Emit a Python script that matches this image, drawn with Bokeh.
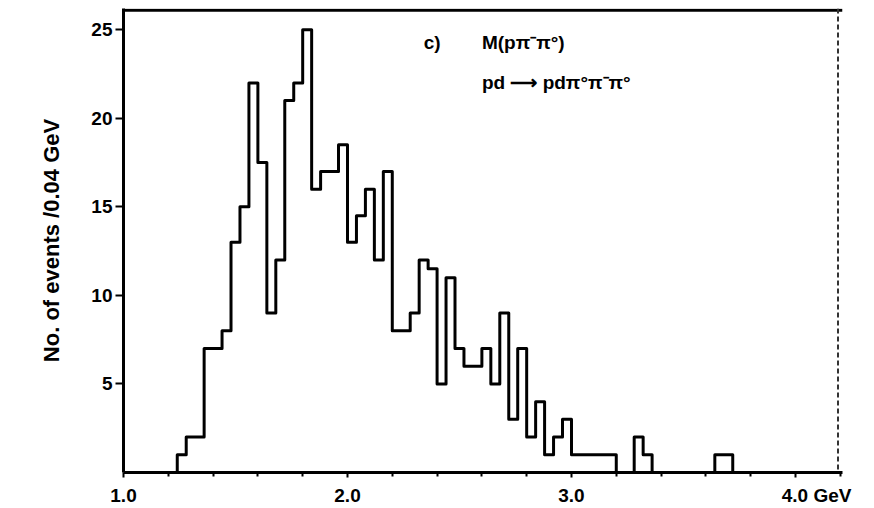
import numpy as np
from bokeh.plotting import figure
from bokeh.models import Range1d, FixedTicker, Span, Label
from bokeh.embed import file_html
from bokeh.resources import INLINE

# ---- data ----
bin_width = 0.04          # GeV per bin
first_edge = 1.20         # lower edge of the first bin listed
counts = [0, 1, 2, 2, 7, 7, 8, 13, 15, 22,
          17.5, 9, 12, 21, 22, 25, 16, 17, 17, 18.5,
          13, 14.5, 16, 12, 17, 8, 8, 9, 12, 11.5,
          5, 11, 7, 6, 6, 7, 5, 9, 3, 7,
          2, 4, 1, 2, 3, 1, 1, 1, 1, 1,
          0, 0, 2, 1, 0, 0, 0, 0, 0, 0,
          0, 1, 1, 0]
x_major = [1.0, 2.0, 3.0, 4.0]
x_labels = ["1.0", "2.0", "3.0", "4.0 GeV"]
x_minor = [1.2, 1.4, 1.6, 1.8, 2.2, 2.4, 2.6, 2.8, 3.2, 3.4, 3.6, 3.8, 4.2]
y_major = [5, 10, 15, 20, 25]
y_title = "No. of events /0.04 GeV"
title_1 = "c)"
title_2 = "M(pπ⁻π°)"
title_3 = "pd ⟶ pdπ°π⁻π°"

edges = np.round(first_edge + bin_width * np.arange(len(counts) + 1), 2)
ys = counts + [counts[-1]]

FONT = "Liberation Sans"
PAD = "\u2007" * 4   # keeps "4.0" centred on its tick while "GeV" trails right

overrides = {}
for v, s in zip(x_major, x_labels):
    overrides[v] = (PAD + s) if " " in s else s

p = figure(width=874, height=508, output_backend="svg", toolbar_location=None,
           x_range=Range1d(1.0, 4.21), y_range=Range1d(0, 26.2),
           min_border_left=123, min_border_right=32, min_border_top=8,
           min_border_bottom=36)
p.background_fill_color = "white"
p.border_fill_color = "white"
p.outline_line_color = None
p.grid.visible = False

p.step(x=list(edges), y=ys, mode="after", line_color="black", line_width=3,
       line_join="round")

# x axis
xa = p.xaxis[0]
xa.ticker = FixedTicker(ticks=x_major, minor_ticks=x_minor)
xa.major_label_overrides = overrides
xa.axis_line_width = 3
xa.major_tick_line_width = 2
xa.minor_tick_line_width = 2
xa.major_tick_in = 0
xa.major_tick_out = 5
xa.minor_tick_in = 0
xa.minor_tick_out = 4
xa.major_label_standoff = 7
xa.major_label_text_font = FONT
xa.major_label_text_font_style = "bold"
xa.major_label_text_font_size = "19px"
xa.major_label_text_color = "black"

# y axis
ya = p.yaxis[0]
ya.ticker = FixedTicker(ticks=y_major)
ya.axis_line_width = 3
ya.major_tick_line_width = 2
ya.major_tick_in = 0
ya.major_tick_out = 8
ya.minor_tick_line_color = None
ya.major_label_standoff = 3
ya.major_label_text_font = FONT
ya.major_label_text_font_style = "bold"
ya.major_label_text_font_size = "19px"
ya.major_label_text_color = "black"
ya.axis_label = y_title
ya.axis_label_text_font = FONT
ya.axis_label_text_font_style = "bold"
ya.axis_label_text_font_size = "22px"
ya.axis_label_standoff = 24
ya.axis_label_text_color = "black"

# frame top and dashed right edge
p.add_layout(Span(location=26.1, dimension="width", line_color="black", line_width=3))
p.add_layout(Span(location=4.19, dimension="height", line_color="#333333",
                  line_width=2, line_dash="5 3"))

# annotations
p.add_layout(Label(x=2.34, y=23.7, text=title_1, text_font=FONT,
                   text_font_style="bold", text_font_size="19px", text_color="black"))
p.add_layout(Label(x=2.60, y=23.7, text=title_2, text_font=FONT,
                   text_font_style="bold", text_font_size="19px", text_color="black"))
p.add_layout(Label(x=2.60, y=21.45, text=title_3, text_font=FONT,
                   text_font_style="bold", text_font_size="19px", text_color="black"))

open("out.html", "w").write(file_html(p, INLINE))
